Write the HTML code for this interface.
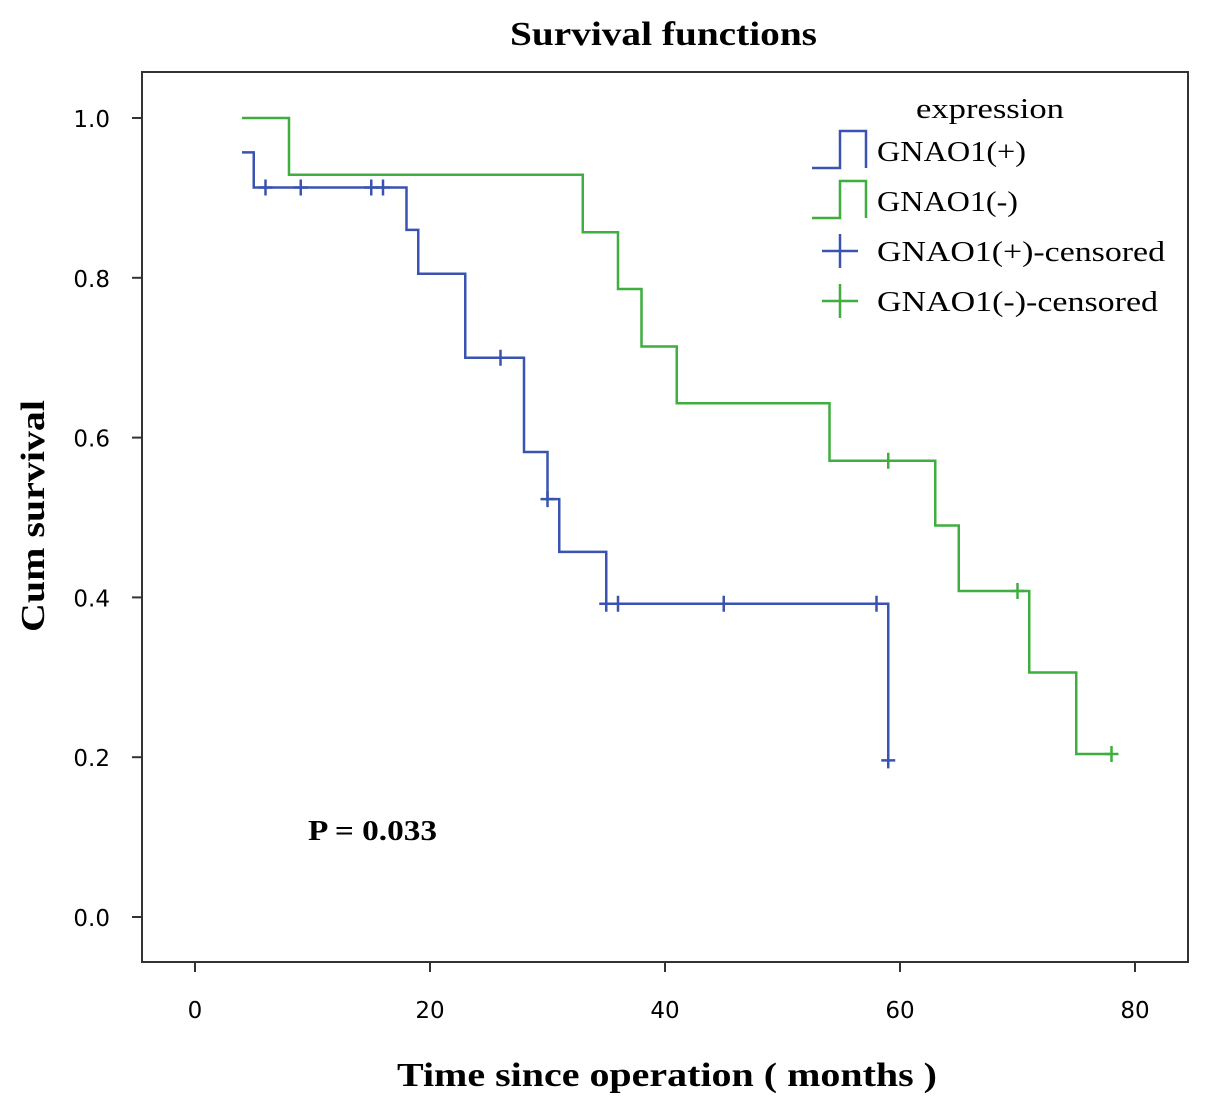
<!DOCTYPE html>
<html><head><meta charset="utf-8"><style>
body{margin:0;background:#fff}
svg{display:block}
text{font-family:"Liberation Serif",serif;fill:#000}
.tick{font-family:"DejaVu Sans","Liberation Sans",sans-serif}
</style></head><body>
<svg id="chart" width="1205" height="1109">
<text x="510" y="45" font-size="34" font-weight="bold" textLength="307" lengthAdjust="spacingAndGlyphs">Survival functions</text>
<rect x="142" y="72" width="1046" height="890" fill="none" stroke="#333" stroke-width="2"/>
<g id="axes"></g>
<g id="series"></g>
<text x="44" y="632" font-size="34" font-weight="bold" textLength="232" lengthAdjust="spacingAndGlyphs" transform="rotate(-90 44 632)">Cum survival</text>
<text x="397" y="1086" font-size="34" font-weight="bold" textLength="540" lengthAdjust="spacingAndGlyphs">Time since operation ( months )</text>
<text x="308" y="840" font-size="28" font-weight="bold" textLength="129" lengthAdjust="spacingAndGlyphs">P = 0.033</text>
<g>
<text x="916" y="118" font-size="28" textLength="148" lengthAdjust="spacingAndGlyphs">expression</text>
<path d="M812,168 H840 V131 H866 V168" fill="none" stroke="#3a52b0" stroke-width="2.5"/>
<text x="877" y="161" font-size="28" textLength="149" lengthAdjust="spacingAndGlyphs">GNAO1(+)</text>
<path d="M812,218 H840 V181 H866 V218" fill="none" stroke="#3fae3f" stroke-width="2.5"/>
<text x="877" y="211" font-size="28" textLength="141" lengthAdjust="spacingAndGlyphs">GNAO1(-)</text>
<path d="M822,251 H858 M840,234 V268" stroke="#3a52b0" stroke-width="2.5"/>
<text x="877" y="261" font-size="28" textLength="288" lengthAdjust="spacingAndGlyphs">GNAO1(+)-censored</text>
<path d="M822,301 H858 M840,284 V318" stroke="#3fae3f" stroke-width="2.5"/>
<text x="877" y="311" font-size="28" textLength="281" lengthAdjust="spacingAndGlyphs">GNAO1(-)-censored</text>
</g>
</svg>
<script>
const xTicks=[0,20,40,60,80];
const yTicks=[0.0,0.2,0.4,0.6,0.8,1.0];
const posTimes=[4,5,18,19,23,28,30,31,35,59];
const posSurv=[0.957,0.913,0.86,0.805,0.70,0.582,0.523,0.457,0.392,0.196];
const posCensT=[6,9,15,16,26,30,35,36,45,58,59];
const posCensS=[0.913,0.913,0.913,0.913,0.70,0.523,0.392,0.392,0.392,0.392,0.196];
const negTimes=[4,8,33,36,38,41,54,63,65,71,75];
const negSurv=[1.0,0.929,0.857,0.786,0.714,0.643,0.571,0.49,0.408,0.306,0.204];
const negCensT=[59,70,78];
const negCensS=[0.571,0.408,0.204];
const posEnd=59, negEnd=78;
const NS="http://www.w3.org/2000/svg";
const X=v=>195+v*11.75, Y=v=>917-v*799;
const axes=document.getElementById('axes'), ser=document.getElementById('series');
function mk(tag,attrs,parent){const e=document.createElementNS(NS,tag);for(const k in attrs)e.setAttribute(k,attrs[k]);parent.appendChild(e);return e;}
xTicks.forEach(t=>{
 const l=mk('line',{x1:X(t),x2:X(t),y1:962,y2:972,stroke:'#333','stroke-width':2},axes);
 
 
 const tx=mk('text',{x:X(t),y:1018,'font-size':23,'text-anchor':'middle',class:'tick'},axes);tx.textContent=t;
 
 
});
yTicks.forEach(t=>{
 const l=mk('line',{x1:132,x2:142,y1:Y(t),y2:Y(t),stroke:'#333','stroke-width':2},axes);
 
 
 const tx=mk('text',{x:110,y:Y(t)+9,'font-size':23,'text-anchor':'end',class:'tick'},axes);tx.textContent=t.toFixed(1);
 
 
});
function step(times,surv,end,color,name){
 let d='M'+X(times[0])+','+Y(surv[0]);
 for(let i=1;i<times.length;i++){d+=' H'+X(times[i])+' V'+Y(surv[i]);}
 d+=' H'+X(end);
 const p=mk('path',{d:d,fill:'none',stroke:color,'stroke-width':2.5},ser);
 
 
}
function cens(ts,ss,color,name){
 ts.forEach((t,i)=>{
  const p=mk('path',{d:`M${X(t)-7},${Y(ss[i])} h14 M${X(t)},${Y(ss[i])-8} v16`,stroke:color,'stroke-width':2.5},ser);
  
  
 });
}
step(negTimes,negSurv,negEnd,'#3fae3f','line-gnao1-neg');
step(posTimes,posSurv,posEnd,'#3a52b0','line-gnao1-pos');
cens(negCensT,negCensS,'#3fae3f','censor-gnao1-neg');
cens(posCensT,posCensS,'#3a52b0','censor-gnao1-pos');
</script>
</body></html>
